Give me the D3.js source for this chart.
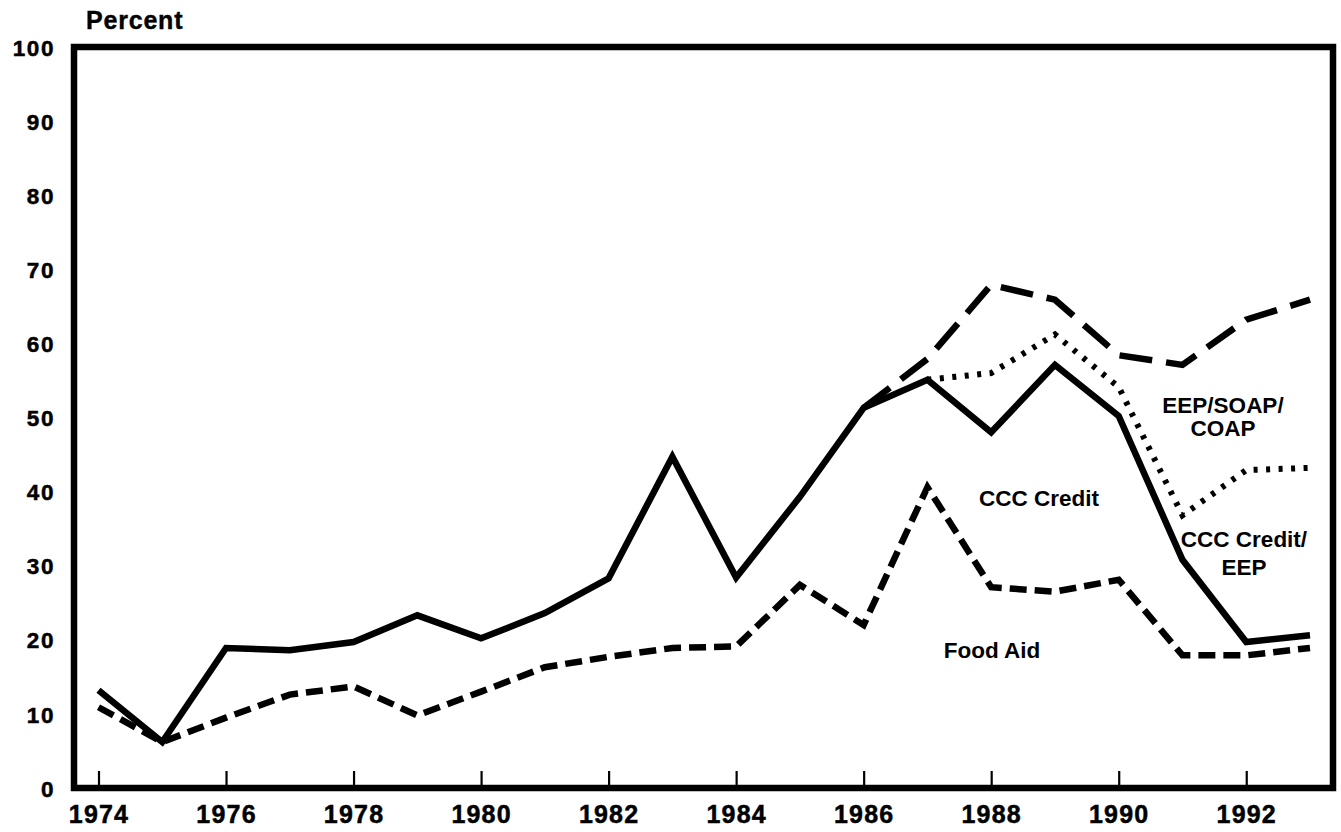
<!DOCTYPE html>
<html>
<head>
<meta charset="utf-8">
<script src="https://cdn.jsdelivr.net/npm/d3@7"></script>
<style>
  html, body { margin: 0; padding: 0; background: #fff; }
  svg { display: block; }
</style>
</head>
<body>
<svg id="chart" width="1341" height="832"></svg>
<script>
// ---- Data ----
const years = [1974,1975,1976,1977,1978,1979,1980,1981,1982,1983,1984,1985,1986,1987,1988,1989,1990,1991,1992,1993];
const cccCredit = [13.2,6.2,18.9,18.6,19.7,23.3,20.2,23.6,28.3,44.7,28.4,39.3,51.3,55.1,48.0,57.1,50.2,30.8,19.7,20.6];
const foodAid   = [10.9,6.2,9.5,12.6,13.7,9.8,13.0,16.3,17.7,18.9,19.1,27.4,22.0,40.6,27.1,26.5,28.1,17.9,17.9,18.9];
const cccEepYears = [1986,1987,1988,1989,1990,1991,1992,1993];
const cccEep      = [51.3,57.9,67.9,65.9,58.4,57.1,63.2,65.9];
const eepYears = [1987,1988,1989,1990,1991,1992,1993];
const eepSoapCoap = [55.1,56.0,61.2,54.1,36.8,42.9,43.2];
const xTickLabels = [1974,1976,1978,1980,1982,1984,1986,1988,1990,1992];
const yTickLabels = [0,10,20,30,40,50,60,70,80,90,100];

// ---- Layout ----
const svg = d3.select("#chart");
const frame = {left: 74, right: 1333, top: 47, bottom: 788};
const x = d3.scaleLinear().domain([1974, 1993]).range([98.5, 1310]);
const y = d3.scaleLinear().domain([0, 100]).range([frame.bottom, frame.top]);
const FONT = "'Liberation Sans', Arial, sans-serif";

// Frame
svg.append("rect")
  .attr("x", frame.left).attr("y", frame.top)
  .attr("width", frame.right - frame.left).attr("height", frame.bottom - frame.top)
  .attr("fill", "none").attr("stroke", "#000").attr("stroke-width", 6.5);

// X axis ticks (inside) and labels
const xAxis = d3.axisBottom(x).tickValues(xTickLabels).tickSize(0).tickFormat(d3.format("d"));
const gx = svg.append("g").attr("transform", `translate(0,${frame.bottom})`).call(xAxis);
gx.select(".domain").remove();
gx.selectAll(".tick text")
  .attr("y", 35).attr("dy", 0)
  .attr("font-family", FONT).attr("font-weight", "bold").attr("font-size", 25)
  .attr("letter-spacing", 1.2).attr("fill", "#000")
  .attr("stroke", "#000").attr("stroke-width", 0.5);
gx.selectAll(".tick").append("line")
  .attr("y1", 0).attr("y2", -17).attr("stroke", "#000").attr("stroke-width", 2.2);

// Y axis labels
const yAxis = d3.axisLeft(y).tickValues(yTickLabels).tickSize(0).tickFormat(d3.format("d"));
const gy = svg.append("g").attr("transform", `translate(${frame.left},0)`).call(yAxis);
gy.select(".domain").remove();
gy.selectAll(".tick text")
  .attr("x", -19).attr("dy", "0.36em")
  .attr("font-family", FONT).attr("font-weight", "bold").attr("font-size", 22.5)
  .attr("letter-spacing", 1.6).attr("fill", "#000")
  .attr("stroke", "#000").attr("stroke-width", 0.5);

svg.append("text").attr("x", 86).attr("y", 29)
  .attr("font-family", FONT).attr("font-weight", "bold").attr("font-size", 25)
  .attr("letter-spacing", 0.8).attr("stroke", "#000").attr("stroke-width", 0.4)
  .text("Percent");

// Lines
const line = d3.line().x(d => x(d[0])).y(d => y(d[1]));
function drawSeries(xs, vs, dash, width) {
  svg.append("path")
    .datum(xs.map((yr, i) => [yr, vs[i]]))
    .attr("d", line)
    .attr("fill", "none").attr("stroke", "#000")
    .attr("stroke-width", width)
    .attr("stroke-linejoin", "miter")
    .attr("stroke-dasharray", dash);
}
drawSeries(years, foodAid, "17,8", 6.5);
drawSeries(eepYears, eepSoapCoap, "4,8.5", 6);
drawSeries(cccEepYears, cccEep, "33,14", 6.5);
drawSeries(years, cccCredit, null, 6.5);

// Annotations
function label(lines, cx, cy, lh) {
  const t = svg.append("text")
    .attr("font-family", FONT).attr("font-weight", "bold").attr("font-size", 22.5)
    .attr("text-anchor", "middle").attr("fill", "#000");
  lines.forEach((s, i) => {
    t.append("tspan").attr("x", cx).attr("y", cy + i * lh).attr("dy", "0.36em").text(s);
  });
}
label(["CCC Credit"], 1039, 498, 0);
label(["Food Aid"], 992, 650, 0);
label(["CCC Credit/", "EEP"], 1244, 539, 28);
label(["EEP/SOAP/", "COAP"], 1223, 405, 23);
</script>
</body>
</html>
